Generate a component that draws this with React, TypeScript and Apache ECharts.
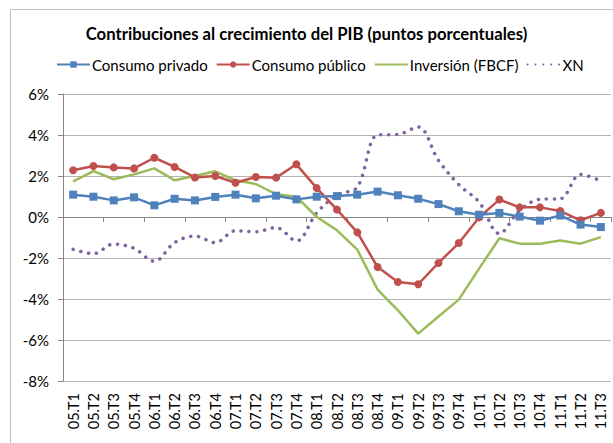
import React, { useEffect, useRef } from "react";
import * as echarts from "echarts";

const categories = [
  "05.T1","05.T2","05.T3","05.T4","06.T1","06.T2","06.T3","06.T4",
  "07.T1","07.T2","07.T3","07.T4","08.T1","08.T2","08.T3","08.T4",
  "09.T1","09.T2","09.T3","09.T4","10.T1","10.T2","10.T3","10.T4",
  "11.T1","11.T2","11.T3",
];

const consumoPrivado = [
  1.09, 0.99, 0.81, 0.96, 0.57, 0.89, 0.81, 0.98, 1.09, 0.91, 1.04, 0.86,
  0.99, 1.02, 1.09, 1.24, 1.06, 0.89, 0.63, 0.28, 0.11, 0.2, 0.02, -0.18,
  0.07, -0.37, -0.49,
];

const consumoPublico = [
  2.28, 2.49, 2.42, 2.37, 2.89, 2.44, 1.93, 2.0, 1.67, 1.95, 1.92, 2.57,
  1.41, 0.36, -0.75, -2.44, -3.17, -3.28, -2.24, -1.27, -0.02, 0.85, 0.47,
  0.47, 0.29, -0.16, 0.2,
];

const inversion = [
  1.74, 2.24, 1.84, 2.08, 2.37, 1.79, 2.0, 2.23, 1.79, 1.61, 1.11, 0.99,
  0.0, -0.65, -1.59, -3.54, -4.55, -5.69, -4.85, -4.03, -2.52, -1.04, -1.3,
  -1.3, -1.15, -1.3, -0.98,
];

const xn = [
  -1.58, -1.79, -1.32, -1.53, -2.16, -1.25, -0.93, -1.25, -0.67, -0.72,
  -0.52, -1.17, 0.2, 1.07, 1.46, 4.0, 4.03, 4.39, 2.76, 1.58, 0.73, -0.81,
  0.33, 0.86, 0.89, 2.08, 1.75,
];

const FONT = "Lato, 'Liberation Sans', sans-serif";

export default function App() {
  const ref = useRef<HTMLDivElement>(null);
  useEffect(() => {
    if (!ref.current) return;
    const chart = echarts.init(ref.current, undefined, { renderer: "svg" });
    chart.setOption({
      animation: false,
      backgroundColor: "#ffffff",
      textStyle: { fontFamily: FONT },
      graphic: [
        {
          type: "rect",
          shape: { x: 10.5, y: 9.5, width: 640, height: 460 },
          style: { fill: "none", stroke: "#bfbfbf", lineWidth: 1 },
          silent: true,
        },
      ],
      title: {
        text: "Contribuciones al crecimiento del PIB (puntos porcentuales)",
        left: "center",
        top: 20,
        textStyle: {
          fontFamily: FONT,
          fontSize: 16.7,
          fontWeight: "bold",
          color: "#000000",
        },
      },
      legend: {
        top: 52,
        left: 51,
        itemWidth: 33,
        itemHeight: 8,
        itemGap: 8,
        textStyle: { fontFamily: FONT, fontSize: 15, color: "#000000", padding: [0, 0, 0, -3] },
        data: [
          { name: "Consumo privado" },
          { name: "Consumo público" },
          { name: "Inversión (FBCF)", itemStyle: { opacity: 0 } },
          {
            name: "XN",
            itemStyle: { opacity: 0 },
          },
        ],
      },
      grid: { left: 63, right: 2, top: 94, bottom: 62, containLabel: false },
      xAxis: [
        {
          type: "category",
          data: categories,
          boundaryGap: true,
          axisLine: { onZero: true, lineStyle: { color: "#868686", width: 1 } },
          axisTick: { show: true, length: 5, inside: false, lineStyle: { color: "#868686" } },
          axisLabel: { show: false },
          splitLine: { show: false },
        },
        {
          type: "category",
          data: categories,
          position: "bottom",
          boundaryGap: true,
          axisLine: { show: false, onZero: false },
          axisTick: { show: false },
          axisLabel: {
            show: true,
            rotate: 90,
            interval: 0,
            margin: 12,
            fontFamily: FONT,
            fontSize: 14.5,
            color: "#000000",
          },
        },
      ],
      yAxis: {
        type: "value",
        min: -8,
        max: 6,
        interval: 2,
        axisLine: { show: true, lineStyle: { color: "#868686" } },
        axisTick: { show: true, length: 5, lineStyle: { color: "#868686" } },
        axisLabel: {
          formatter: (v: number) => `${v}%`,
          margin: 14,
          fontFamily: FONT,
          fontSize: 15,
          color: "#000000",
        },
        splitLine: { show: true, lineStyle: { color: "#b3b3b3", width: 1 } },
      },
      series: [
        {
          name: "Consumo privado",
          type: "line",
          data: consumoPrivado,
          symbol: "rect",
          symbolSize: 8,
          itemStyle: { color: "#4F81BD" },
          lineStyle: { color: "#4F81BD", width: 2.5 },
          z: 4,
        },
        {
          name: "Consumo público",
          type: "line",
          data: consumoPublico,
          symbol: "circle",
          symbolSize: 8,
          itemStyle: { color: "#C0504D" },
          lineStyle: { color: "#C0504D", width: 2.5 },
          z: 3,
        },
        {
          name: "Inversión (FBCF)",
          type: "line",
          data: inversion,
          symbol: "none",
          itemStyle: { color: "#9BBB59" },
          lineStyle: { color: "#9BBB59", width: 2.5 },
          z: 2,
        },
        {
          name: "XN",
          type: "line",
          data: xn,
          symbol: "none",
          smooth: 0.35,
          itemStyle: { color: "#8064A2" },
          lineStyle: {
            color: "#8064A2",
            width: 3.5,
            type: [0.1, 7.8],
            cap: "round",
          },
          z: 1,
        },
      ],
    });
    return () => chart.dispose();
  }, []);
  return (
    <div
      ref={ref}
      style={{ position: "fixed", left: 0, top: 0, width: 613, height: 443 }}
    />
  );
}
